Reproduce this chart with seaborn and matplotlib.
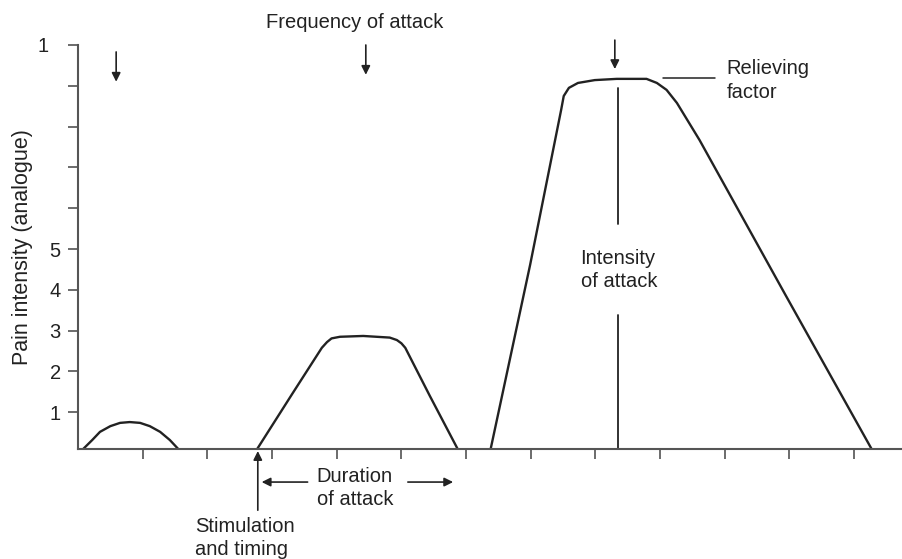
import matplotlib
matplotlib.use("Agg")
import matplotlib.pyplot as plt
import pandas as pd
import seaborn as sns

# three pain attacks (time units on x, analogue intensity on y)
attack1_x = [0.08, 0.22, 0.34, 0.50, 0.65, 0.80, 0.96, 1.11, 1.27, 1.42, 1.55]
attack1_y = [0.10, 0.32, 0.52, 0.66, 0.74, 0.76, 0.74, 0.66, 0.52, 0.32, 0.10]

attack2_x = [2.77, 3.32, 3.77, 3.85, 3.92, 4.05, 4.41, 4.82, 4.93, 5.00, 5.06, 5.44, 5.87]
attack2_y = [0.10, 1.47, 2.58, 2.72, 2.81, 2.85, 2.87, 2.83, 2.77, 2.69, 2.58, 1.40, 0.10]

attack3_x = [6.38, 6.99, 7.47, 7.51, 7.59, 7.73, 7.99, 8.33, 8.79, 8.95, 9.10,
             9.26, 9.61, 10.94, 12.27]
attack3_y = [0.10, 4.61, 8.41, 8.75, 8.95, 9.07, 9.14, 9.17, 9.17, 9.07, 8.90,
             8.58, 7.67, 3.87, 0.10]

y_ticks = [1, 2, 3, 4, 5, 6, 7, 8, 9, 10]
y_tick_labels = ["1", "2", "3", "4", "5", "", "", "", "", "1  "]
x_ticks = [1, 2, 3, 4, 5, 6, 7, 8, 9, 10, 11, 12]

df = pd.concat([
    pd.DataFrame({"t": attack1_x, "pain": attack1_y, "attack": 1}),
    pd.DataFrame({"t": attack2_x, "pain": attack2_y, "attack": 2}),
    pd.DataFrame({"t": attack3_x, "pain": attack3_y, "attack": 3}),
])

sns.set_style("ticks")
plt.rcParams["font.family"] = ["Liberation Sans", "DejaVu Sans"]

INK = "#222222"
FS = 14.5

fig = plt.figure(figsize=(9.02, 5.59), dpi=100)
ax = fig.add_axes([78 / 902, 110 / 559, 824 / 902, 404 / 559])

sns.lineplot(data=df, x="t", y="pain", units="attack", estimator=None,
             sort=False, color=INK, lw=1.7, ax=ax)
for ln in ax.lines:
    ln.set_solid_joinstyle("round")

ax.set_xlim(0, 12.74)
ax.set_ylim(0.1, 10.0)
ax.set_xticks(x_ticks)
ax.set_xticklabels([])
ax.set_yticks(y_ticks)
ax.set_yticklabels(y_tick_labels)
ax.tick_params(axis="both", direction="out", length=7.5, width=1.1,
               color="#444444", labelsize=FS, labelcolor=INK, pad=5)
for side in ["top", "right"]:
    ax.spines[side].set_visible(False)
for side in ["left", "bottom"]:
    ax.spines[side].set_color("#555555")
    ax.spines[side].set_linewidth(1.5)

ax.set_xlabel("")
ax.set_ylabel("Pain intensity (analogue)", fontsize=15.5, color=INK, labelpad=4)

arrow = dict(arrowstyle="-|>", color=INK, lw=1.2, mutation_scale=13,
             shrinkA=0, shrinkB=0)

# frequency arrows above each attack
for x0, y_top, y_tip in [(0.59, 9.83, 9.10), (4.45, 10.0, 9.27), (8.30, 10.12, 9.41)]:
    ax.annotate("", xy=(x0, y_tip), xytext=(x0, y_top), arrowprops=arrow,
                annotation_clip=False)
ax.text(4.28, 10.54, "Frequency of attack", ha="center", va="center",
        fontsize=FS, color=INK, clip_on=False)

# intensity marker
ax.plot([8.35, 8.35], [8.95, 5.61], color=INK, lw=1.3)
ax.plot([8.35, 8.35], [3.38, 0.10], color=INK, lw=1.3)
ax.text(7.77, 4.49, "Intensity\nof attack", ha="left", va="center",
        fontsize=FS, color=INK, linespacing=1.3)

# relieving factor
ax.plot([9.04, 9.85], [9.19, 9.19], color=INK, lw=1.1)
ax.text(10.03, 9.13, "Relieving\nfactor", ha="left", va="center",
        fontsize=FS, color=INK, linespacing=1.3)

# duration of attack
ax.text(3.69, -0.86, "Duration\nof attack", ha="left", va="center",
        fontsize=FS, color=INK, linespacing=1.3, clip_on=False)
ax.annotate("", xy=(2.84, -0.71), xytext=(3.55, -0.71), arrowprops=arrow,
            annotation_clip=False)
ax.annotate("", xy=(5.80, -0.71), xytext=(5.10, -0.71), arrowprops=arrow,
            annotation_clip=False)

# stimulation and timing
ax.annotate("", xy=(2.78, 0.05), xytext=(2.78, -1.40), arrowprops=arrow,
            annotation_clip=False)
ax.text(1.81, -2.08, "Stimulation\nand timing", ha="left", va="center",
        fontsize=FS, color=INK, linespacing=1.3, clip_on=False)

fig.savefig("out.png", dpi=100)
